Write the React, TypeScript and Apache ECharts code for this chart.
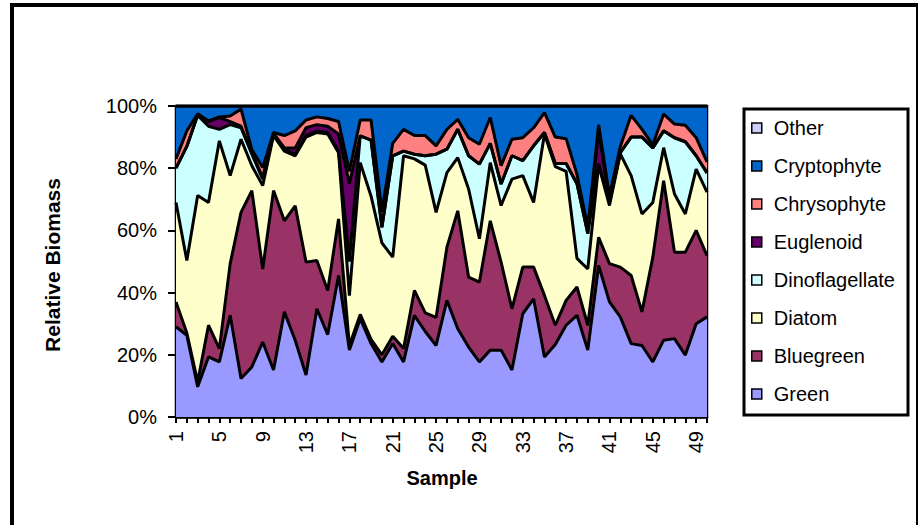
import React, { useEffect, useRef } from 'react';
import * as echarts from 'echarts';

const samples = ['1','2','3','4','5','6','7','8','9','10','11','12','13','14','15','16','17','18','19','20','21','22','23','24','25','26','27','28','29','30','31','32','33','34','35','36','37','38','39','40','41','42','43','44','45','46','47','48','49','50'];

const green = [29,26.3,9.7,19.3,17.7,32.7,12.4,16.1,24.1,15.1,33.8,24.7,13.5,34.8,26.5,45.5,21.5,31.6,23.6,17.7,23.6,17.7,32.7,27.5,23,37.5,28.4,22.5,17.7,21.5,21.5,15.1,33.2,38,19.3,23.3,29.5,32.7,21.5,48.7,37,32.2,23.6,23,17.7,24.7,25.2,19.9,30,32.2];
const bluegreen = [8,0.7,1.6,10.2,4.3,16.6,53.4,56.7,23.5,57.7,29.3,43.2,36.3,15.5,14.2,18.2,1.5,1.4,1.4,2.3,2.4,4.3,8,6,9,17.1,37.9,22.5,25.7,41.6,28.3,19.7,15,10.2,19.8,6.2,8,9.1,8,9.1,12.3,16,21.9,10.8,33.7,51.3,27.8,33.1,30,19.7];
const diatom = [32,23.3,59.9,39.5,66.8,28.3,23.5,8,26.8,17.7,22.4,16.1,40.2,41.2,50.3,21.3,16,48.8,46,36,25.4,62,42.3,47.5,33.8,24,17.1,28.3,13.9,18.7,18.2,41.7,29.4,20.8,51.9,51,41.5,9.2,18.1,23.2,18.7,36.4,32.1,31.5,17.6,10.6,18.7,12.3,19.7,20.4];
const dinoflagellate = [11,36.7,25.8,24.5,3.7,16.4,3.7,3.7,2.1,0.5,0.5,0.5,0.5,0.5,0.5,0.5,11,8.6,18,5,32.6,1.5,1.5,3,18.7,7.5,9.1,10.7,24,6.2,6.9,7.5,4.8,18.2,0.5,1,2.5,24,11.4,0.5,1,0.4,12.4,24.7,17.5,5.4,18.1,23.2,4.3,6.2];
const euglenoid = [0,0,0.2,1.5,3.8,1,0.5,0.5,0.5,0.2,0.5,2,2.5,2,2,5.5,25,0,0,0,0,0,0,0,0,0,0,0,0,0,0,0,0,0,0,0,0,0,0,10.5,0.5,0,0,0,0,0,0,0,0,0];
const chrysophyte = [3,5,0.3,0.2,0.2,1.8,5.5,1,3.2,0.3,4,5.5,2.5,2.5,2.5,4,4,5.1,6.5,5,4,7,6,6.5,2.7,6.4,3.2,5.8,6.4,8.3,5.9,5.3,7.4,5.8,6.4,8.5,8,3,2,2,1.5,2,7,2.5,1,5.4,4.4,5.3,5.8,3.5];
const cryptophyte = [17,8,2.5,4.8,3.5,3.2,1,14,19.8,8.5,9.5,8,4.5,3.5,4,5,21,4.5,4.5,34,12,7.5,9.5,9.5,12.8,7.5,4.3,10.2,12.3,3.7,19.2,10.7,10.2,7,2.1,10,10.5,22,39,6,29,13,3,7.5,12.5,2.6,5.8,6.2,10.2,18];
const other = [0,0,0,0,0,0,0,0,0,0,0,0,0,0,0,0,0,0,0,0,0,0,0,0,0,0,0,0,0,0,0,0,0,0,0,0,0,0,0,0,0,0,0,0,0,0,0,0,0,0];

const seriesNames = ['Green','Bluegreen','Diatom','Dinoflagellate','Euglenoid','Chrysophyte','Cryptophyte','Other'];
const seriesData = [green, bluegreen, diatom, dinoflagellate, euglenoid, chrysophyte, cryptophyte, other];
const seriesColors = ['#9999FF','#993366','#FFFFCC','#CCFFFF','#660066','#FF8080','#0066CC','#CCCCFF'];

const FONT = '"Liberation Sans", Arial, Helvetica, sans-serif';

export default function App() {
  const ref = useRef<HTMLDivElement>(null);
  useEffect(() => {
    if (!ref.current) return;
    const chart = echarts.init(ref.current, null, { renderer: 'svg' });
    const series: any[] = [];
    seriesNames.forEach((name, i) => {
      series.push({
        name,
        type: 'line',
        stack: 'area',
        data: seriesData[i],
        symbol: 'none',
        showSymbol: false,
        silent: true,
        z: 2,
        color: seriesColors[i],
        itemStyle: { color: seriesColors[i] },
        lineStyle: { width: 0, color: seriesColors[i] },
        areaStyle: { color: seriesColors[i], opacity: 1 },
      });
    });
    seriesNames.forEach((name, i) => {
      series.push({
        name: name + ' outline',
        type: 'line',
        stack: 'outline',
        data: seriesData[i],
        symbol: 'none',
        showSymbol: false,
        silent: true,
        z: 3,
        lineStyle: { width: 3, color: '#000' },
      });
    });
    const legendData = seriesNames
      .map((name, i) => ({
        name,
        itemStyle: { color: seriesColors[i], borderColor: '#000', borderWidth: 1.5 },
      }))
      .reverse();

    chart.setOption({
      animation: false,
      backgroundColor: '#fff',
      grid: {
        left: 176,
        right: 211,
        top: 106,
        bottom: 108,
        show: true,
        borderColor: '#000',
        borderWidth: 2.5,
        backgroundColor: '#fff',
      },
      xAxis: {
        type: 'category',
        data: samples,
        boundaryGap: false,
        axisLine: { lineStyle: { color: '#000', width: 2.5 } },
        axisTick: { show: true, interval: 0, length: 6, lineStyle: { color: '#000', width: 2 } },
        axisLabel: {
          interval: 3,
          rotate: 90,
          margin: 14,
          fontSize: 20,
          fontFamily: FONT,
          color: '#000',
        },
        splitLine: { show: false },
      },
      yAxis: {
        type: 'value',
        min: 0,
        max: 100,
        interval: 20,
        axisLine: { show: true, lineStyle: { color: '#000', width: 2.5 } },
        axisTick: { show: true, length: 8, lineStyle: { color: '#000', width: 2 } },
        axisLabel: {
          formatter: '{value}%',
          margin: 19,
          fontSize: 20,
          fontFamily: FONT,
          color: '#000',
        },
        splitLine: { show: false },
      },
      legend: {
        data: legendData,
        orient: 'vertical',
        left: 751,
        top: 118,
        padding: 0,
        itemGap: 18,
        itemWidth: 10,
        itemHeight: 10,
        icon: 'rect',
        selectedMode: false,
        textStyle: {
          fontSize: 20,
          fontFamily: FONT,
          color: '#000',
          lineHeight: 20,
          padding: [0, 0, 0, 7],
        },
      },
      graphic: [
        {
          type: 'rect',
          shape: { x: 12, y: 5, width: 906, height: 540 },
          style: { fill: 'none', stroke: '#000', lineWidth: 4 },
          silent: true,
        },
        {
          type: 'rect',
          shape: { x: 744, y: 109, width: 164, height: 306 },
          style: { fill: 'none', stroke: '#000', lineWidth: 3 },
          silent: true,
        },
        {
          type: 'text',
          x: 52,
          y: 265,
          rotation: Math.PI / 2,
          style: {
            text: 'Relative Biomass',
            fontSize: 21,
            fontWeight: 'bold',
            fontFamily: FONT,
            fill: '#000',
            textAlign: 'center',
            textVerticalAlign: 'middle',
          },
          silent: true,
        },
        {
          type: 'text',
          x: 442,
          y: 478,
          style: {
            text: 'Sample',
            fontSize: 20,
            fontWeight: 'bold',
            fontFamily: FONT,
            fill: '#000',
            textAlign: 'center',
            textVerticalAlign: 'middle',
          },
          silent: true,
        },
      ],
      series,
    });
    return () => chart.dispose();
  }, []);
  return (
    <div
      ref={ref}
      style={{ position: 'absolute', left: 0, top: 0, width: 918, height: 525, background: '#fff' }}
    />
  );
}
